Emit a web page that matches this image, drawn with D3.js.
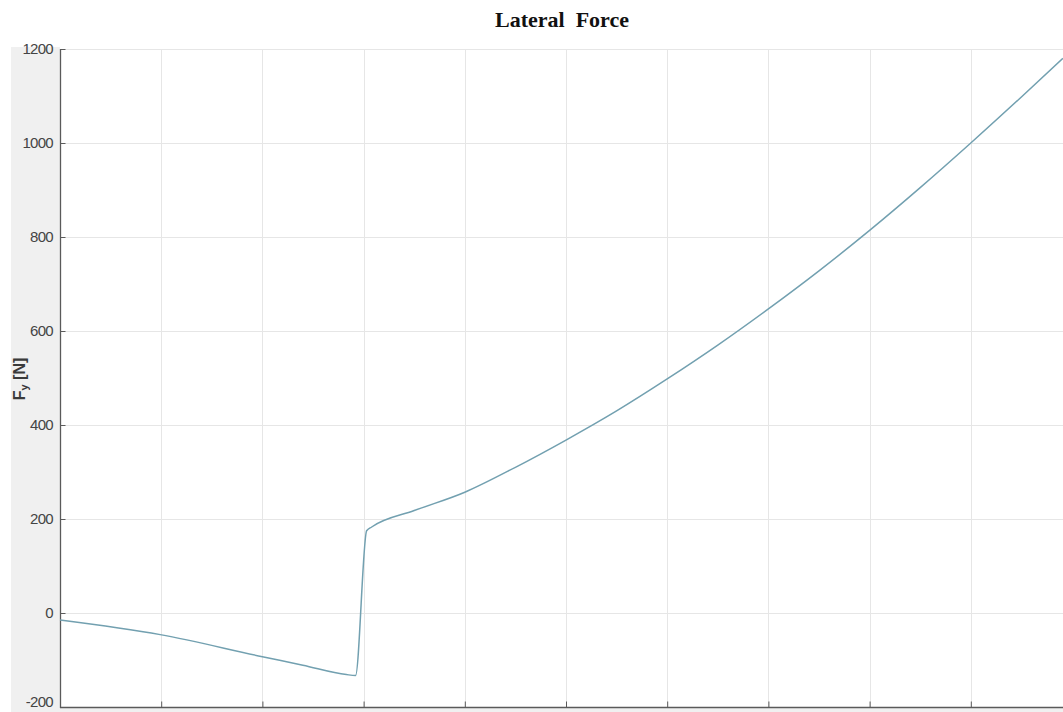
<!DOCTYPE html>
<html>
<head>
<meta charset="utf-8">
<script src="https://cdn.jsdelivr.net/npm/d3@7"></script>
<style>
  html, body { margin: 0; padding: 0; background: #ffffff; overflow: hidden; }
  svg { display: block; }
</style>
</head>
<body>
<svg id="chart" width="1063" height="712"></svg>
<script>
// Lateral force samples along the run (x in axis units, force in newtons)
const xValues = [0, 0.99, 2.0, 2.4, 2.83, 2.92, 3.03, 3.08, 3.5, 4.0, 4.5, 5.0, 5.5, 6.0, 6.5, 7.0, 7.5, 8.0, 8.5, 9.0, 9.5, 9.91];
const forceValues = [-15, -46, -93, -111, -131, -133, 175, 183, 218, 257, 310, 368, 430, 498, 570, 647, 728, 814, 905, 1000, 1098, 1180];
const yTicks = [-200, 0, 200, 400, 600, 800, 1000, 1200];
const xTicks = [1, 2, 3, 4, 5, 6, 7, 8, 9];
const titleText = "Lateral  Force";

(function draw() {
  const svg = d3.select("#chart");
  const W = 1063, H = 712;
  const plotLeft = 60, plotTop = 49, plotBottom = 707;

  const x = d3.scaleLinear().domain([0, 10]).range([plotLeft, plotLeft + 1012]);
  const y = d3.scaleLinear().domain([-200, 1200]).range([plotBottom, plotTop]);

  // grey figure panel behind the y tick labels
  svg.append("rect").attr("x", 11).attr("y", 47).attr("width", plotLeft - 11).attr("height", H - 47).attr("fill", "#f0f0f0");
  svg.append("rect").attr("x", plotLeft).attr("y", plotBottom + 1).attr("width", W - plotLeft).attr("height", H - plotBottom).attr("fill", "#f0f0f0");
  // white axes background
  svg.append("rect").attr("x", plotLeft).attr("y", plotTop).attr("width", W - plotLeft).attr("height", plotBottom - plotTop).attr("fill", "#ffffff");

  // grid lines
  const grid = svg.append("g").attr("stroke", "#e6e6e6").attr("stroke-width", 1);
  grid.selectAll("line.h").data(yTicks).join("line").attr("class", "h")
    .attr("x1", plotLeft).attr("x2", W)
    .attr("y1", d => Math.round(y(d)) + 0.5).attr("y2", d => Math.round(y(d)) + 0.5);
  grid.selectAll("line.v").data(xTicks).join("line").attr("class", "v")
    .attr("y1", plotTop).attr("y2", plotBottom)
    .attr("x1", d => Math.round(x(d)) + 0.5).attr("x2", d => Math.round(x(d)) + 0.5);

  // y axis with inward ticks
  const yAxis = d3.axisRight(y).tickValues(yTicks).tickSize(5).tickFormat("");
  const gy = svg.append("g").attr("transform", `translate(${plotLeft + 0.5},0)`).call(yAxis);
  gy.select(".domain").attr("stroke", "#5a5a5a").attr("stroke-width", 1.3).attr("d", `M0,${plotTop}V${plotBottom + 1}`);
  gy.selectAll(".tick line").attr("stroke", "#5a5a5a");

  svg.append("g").selectAll("text").data(yTicks).join("text")
    .attr("x", plotLeft - 7).attr("y", d => Math.min(y(d), H - 10)).attr("dy", "0.35em")
    .attr("text-anchor", "end")
    .attr("font-family", "'Liberation Sans', Arial, sans-serif")
    .attr("font-size", 15).attr("letter-spacing", -0.7)
    .attr("fill", "#444")
    .text(d => d);

  // x axis with inward ticks, no labels
  const xAxis = d3.axisTop(x).tickValues(xTicks).tickSize(6).tickFormat("");
  const gx = svg.append("g").attr("transform", `translate(0,${plotBottom + 0.5})`).call(xAxis);
  gx.select(".domain").attr("stroke", "#5a5a5a").attr("stroke-width", 1.5).attr("d", `M${plotLeft},0H${W}`);
  gx.selectAll(".tick line").attr("stroke", "#5a5a5a");

  // y label
  const yl = svg.append("text")
    .attr("transform", `translate(25,379) rotate(-90)`)
    .attr("text-anchor", "middle")
    .attr("font-family", "'Liberation Sans', Arial, sans-serif")
    .attr("font-size", 16).attr("font-weight", "bold")
    .attr("fill", "#3a3a3a");
  yl.append("tspan").text("F");
  yl.append("tspan").attr("font-size", 11).attr("dy", 3).text("y");
  yl.append("tspan").attr("dy", -3).text(" [N]");

  // force curve
  const line = d3.line().x((d, i) => x(xValues[i])).y(d => y(d)).curve(d3.curveMonotoneX);
  svg.append("path").datum(forceValues)
    .attr("d", line)
    .attr("fill", "none")
    .attr("stroke", "#72a0b0")
    .attr("stroke-width", 1.5);

  // title
  svg.append("text")
    .attr("x", 562).attr("y", 27)
    .attr("text-anchor", "middle")
    .attr("font-family", "'Liberation Serif', 'Times New Roman', serif")
    .attr("font-weight", "bold").attr("font-size", 22)
    .attr("fill", "#111")
    .style("white-space", "pre")
    .text(titleText);
})();
</script>
</body>
</html>
